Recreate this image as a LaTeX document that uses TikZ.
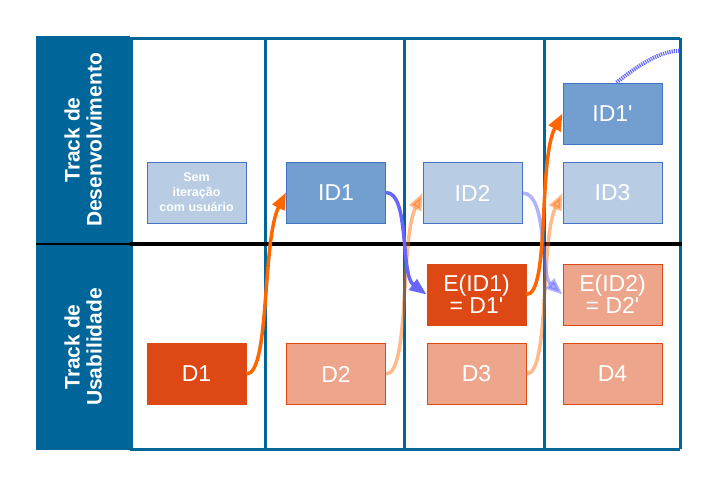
\documentclass[tikz,border=0pt]{standalone}
\usepackage{fontspec}
\setmainfont{Liberation Sans}
\usetikzlibrary{arrows.meta}
\definecolor{hdr}{RGB}{0,102,153}
\definecolor{bmed}{RGB}{114,159,207}
\definecolor{blight}{RGB}{184,204,228}
\definecolor{bborder}{RGB}{68,114,196}
\definecolor{odark}{RGB}{221,72,20}
\definecolor{olight}{RGB}{237,165,139}
\definecolor{arrorange}{RGB}{255,102,0}
\definecolor{arrblue}{RGB}{102,102,255}
\begin{document}
\begin{tikzpicture}[x=1pt,y=-1pt,
  box/.style={minimum width=99pt,minimum height=61pt,inner sep=0pt,line width=1pt,text=white,align=center,font=\fontsize{23}{22}\selectfont},
  bluemed/.style={box,fill=bmed,draw=bborder},
  bluelight/.style={box,fill=blight,draw=bborder},
  orgdark/.style={box,fill=odark,draw=odark},
  orglight/.style={box,fill=olight,draw=odark},
  hdrtext/.style={rotate=90,text=white,align=center,font=\fontsize{21}{22}\selectfont\bfseries},
  arr/.style={line width=3.5pt,-{Triangle[length=17pt,width=13pt]}},
  solidor/.style={arr,arrorange},
  fadeor/.style={arr,arrorange,opacity=0.45},
  solidbl/.style={arr,arrblue},
  fadebl/.style={arr,arrblue,opacity=0.5},
  colline/.style={hdr,line width=3pt}
]
\useasboundingbox (0,0) rectangle (718,491);
\fill[white] (0,0) rectangle (718,491);
% header
\fill[hdr] (36,36) rectangle (130,450);
% frame and column lines
\draw[colline] (130,38) -- (680,38);
\draw[colline] (130,449) -- (680,449);
\draw[colline] (131,38) -- (131,449);
\draw[colline] (265,38) -- (265,449);
\draw[colline] (404,38) -- (404,449);
\draw[colline] (544,38) -- (544,449);
\draw[colline] (680,38) -- (680,449);
% separator
\draw[black,line width=2pt] (36,244) -- (130,244);
\draw[black,line width=4pt] (130,244) -- (682,244);
% header texts
\node[hdrtext] (h1) at (83,140) {Track de\\Desenvolvimento};
\node[hdrtext] (h2) at (83,347) {Track de\\Usabilidade};
% boxes
\node[bluelight,font=\fontsize{12.5}{15}\selectfont\bfseries] (sem) at (196.5,192.5) {Sem\\itera\c{c}\~ao\\com usu\'ario};
\node[bluemed] (ID1) at (336,192.5) {ID1};
\node[bluelight] (ID2) at (472.5,193) {ID2};
\node[bluelight] (ID3) at (612.5,193) {ID3};
\node[bluemed] (ID1p) at (612.5,113.5) {ID1\textquotesingle};
\node[orgdark] (D1) at (196.5,374) {D1};
\node[orglight] (D2) at (336,374) {D2};
\node[orglight] (D3) at (476.5,374) {D3};
\node[orglight] (D4) at (612.5,374) {D4};
\node[orgdark] (E1) at (476.5,294.5) {E(ID1)\\= D1\textquotesingle};
\node[orglight] (E2) at (612.5,294.5) {E(ID2)\\= D2\textquotesingle};
% arrows
\draw[fadeor] (D2.east) .. controls (410,374) and (400,240) .. (ID2.west);
\draw[fadeor] (D3.east) .. controls (550,374) and (540,240) .. (ID3.west);
\draw[fadebl] (ID2.east) .. controls (548,193) and (540,275) .. (E2.west);
\draw[solidor] (D1.east) .. controls (270,374) and (262,240) .. (ID1.west);
\draw[solidbl] (ID1.east) .. controls (410,192.5) and (400,275) .. (E1.west);
\draw[solidor] (E1.east) .. controls (550,294.5) and (538,160) .. (ID1p.west);
\coordinate (dotend) at (680,51);
\draw[arrblue,line width=4pt,dash pattern=on 1.2pt off 1pt] ([xshift=4pt]ID1p.north) .. controls (640,64) and (662,50) .. (dotend);
\end{tikzpicture}
\end{document}
